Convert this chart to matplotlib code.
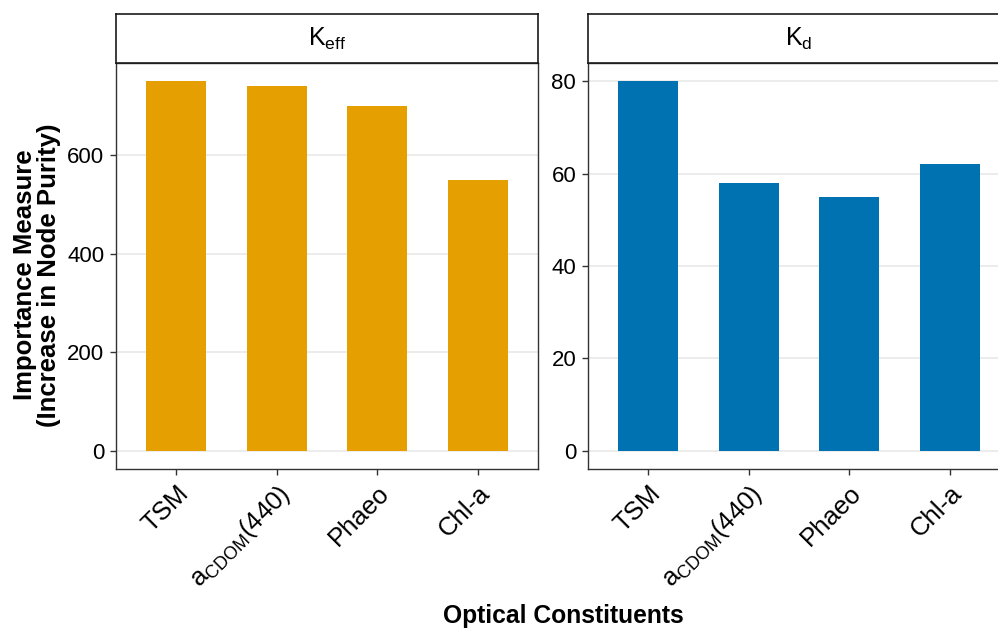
import matplotlib
matplotlib.use("Agg")
import matplotlib.pyplot as plt
import numpy as np

plt.rcParams['font.family'] = ['Liberation Sans', 'DejaVu Sans']
plt.rcParams['mathtext.fontset'] = 'custom'
plt.rcParams['mathtext.rm'] = 'Liberation Sans'
plt.rcParams['mathtext.it'] = 'Liberation Sans:italic'
plt.rcParams['mathtext.bf'] = 'Liberation Sans:bold'

categories = ['TSM', r'$\mathrm{a}_{\mathrm{CDOM}}\mathrm{(440)}$', 'Phaeo', 'Chl-a']
keff_values = [750, 740, 700, 550]
kd_values = [80, 58, 55, 62]
panel_titles = [r'$\mathrm{K}_{\mathrm{eff}}$', r'$\mathrm{K}_{\mathrm{d}}$']
keff_ticks = [0, 200, 400, 600]
kd_ticks = [0, 20, 40, 60, 80]
colors = ['#E69F00', '#0072B2']

W, H = 998, 628
fig = plt.figure(figsize=(W / 100, H / 100), dpi=100)

def fx(px):
    return px / W

def fy(py):
    return 1 - py / H

panel_left = [116, 588]
panel_w = 422
panel_top, panel_bot = 63, 469
strip_top = 14

series = [keff_values, kd_values]
ticks = [keff_ticks, kd_ticks]
border = '#333333'

for i in range(2):
    x0 = panel_left[i]
    ax = fig.add_axes([fx(x0), fy(panel_bot), fx(panel_w), (panel_bot - panel_top) / H])
    xs = np.arange(len(categories))
    ax.bar(xs, series[i], width=0.6, color=colors[i], zorder=3)
    vmax = max(series[i])
    ax.set_ylim(-0.05 * vmax, 1.05 * vmax)
    ax.set_xlim(-0.6, len(categories) - 0.4)
    ax.set_yticks(ticks[i])
    ax.set_yticklabels([str(t) for t in ticks[i]], fontsize=16)
    ax.set_xticks(xs)
    ax.set_xticklabels(categories, fontsize=18.5, rotation=45, ha='right', va='top',
                       rotation_mode='anchor')
    ax.yaxis.grid(True, color='#EBEBEB', linewidth=1.3, zorder=0)
    ax.xaxis.grid(False)
    for s in ax.spines.values():
        s.set_color(border)
        s.set_linewidth(1.0)
    ax.tick_params(axis='both', color=border, length=4.5, width=1.0)
    ax.tick_params(axis='y', pad=4)
    ax.tick_params(axis='x', pad=4)
    # strip
    sax = fig.add_axes([fx(x0), fy(panel_top), fx(panel_w), (panel_top - strip_top) / H])
    sax.set_xticks([])
    sax.set_yticks([])
    for s in sax.spines.values():
        s.set_color('#1a1a1a')
        s.set_linewidth(1.2)
    sax.text(0.5, 0.5, panel_titles[i], ha='center', va='center', fontsize=18,
             transform=sax.transAxes)

fig.text(fx(37), fy(275), 'Importance Measure\n(Increase in Node Purity)', rotation=90,
         ha='center', va='center', fontsize=18.5, fontweight='bold', multialignment='center',
         linespacing=1.0)
fig.text(fx(563), fy(616), 'Optical Constituents', ha='center', va='center',
         fontsize=17.7, fontweight='bold')

fig.savefig('out.png', dpi=100)
